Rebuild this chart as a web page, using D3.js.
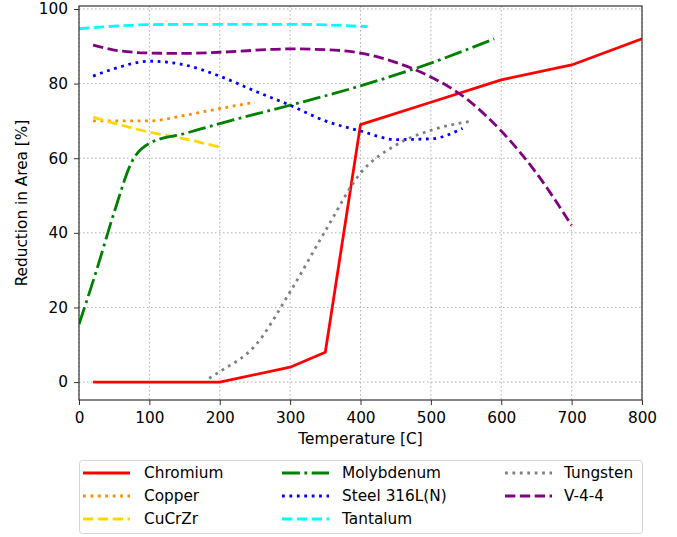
<!DOCTYPE html>
<html lang="en">
  <head>
    <meta charset="UTF-8" />
    <title>Reduction in Area</title>
    <script src="https://d3js.org/d3.v7.min.js"></script>
    <style>
      body { margin: 0; background: #fff; }
      text { font-family: "DejaVu Sans", sans-serif; fill: #000; }
    </style>
  </head>
  <body>
    <div id="chart"></div>
    <script>
      // values: [temperature C, reduction in area %]
      const chromium = [[20, 0], [200, 0], [300, 4], [350, 8], [400, 69], [500, 75], [600, 81], [700, 85], [800, 92]];
      const copper = [[20, 70], [100, 70], [150, 71.5], [200, 73.3], [250, 75]];
      const cucrzr = [[20, 71], [100, 67], [150, 65.2], [200, 63]];
      const molybdenum = [[0, 15.5], [25, 30], [50, 45.5], [75, 59], [100, 64], [150, 66.6], [200, 69.3], [300, 74.2], [400, 79.4], [500, 85.5], [590, 92]];
      const steel = [[20, 82], [50, 84], [100, 86], [150, 85], [200, 82], [250, 78], [300, 74.2], [350, 70], [400, 67.3], [450, 65], [500, 65.2], [545, 68]];
      const tantalum = [[0, 94.7], [50, 95.4], [100, 95.8], [200, 95.9], [300, 95.9], [410, 95.3]];
      const tungsten = [[185, 1], [200, 2.8], [250, 9.7], [300, 24.2], [350, 40.5], [400, 56], [450, 63.5], [500, 67.5], [560, 70]];
      const v44 = [[20, 90.3], [50, 89], [100, 88.2], [150, 88.1], [200, 88.4], [300, 89.3], [350, 89.1], [400, 88.2], [450, 85.7], [500, 81.8], [550, 76], [600, 67.3], [650, 56], [700, 42]];

      const xTicks = [0, 100, 200, 300, 400, 500, 600, 700, 800];
      const yTicks = [0, 20, 40, 60, 80, 100];

      const lw = 2.8;
      const fs = "15.3px";
      const dashed = [3.7 * lw, 1.6 * lw].join(",");
      const dotted = [1 * lw, 1.65 * lw].join(",");
      const dashdot = [6.4 * lw, 1.6 * lw, 1 * lw, 1.6 * lw].join(",");

      const series = [
        { name: "Chromium", data: chromium, color: "#ff0000", dash: null, smooth: false },
        { name: "Copper", data: copper, color: "#ff8c00", dash: dotted, smooth: true },
        { name: "CuCrZr", data: cucrzr, color: "#ffd700", dash: dashed, smooth: true },
        { name: "Molybdenum", data: molybdenum, color: "#008000", dash: dashdot, smooth: true },
        { name: "Steel 316L(N)", data: steel, color: "#0000ff", dash: dotted, smooth: true },
        { name: "Tantalum", data: tantalum, color: "#00ffff", dash: dashed, smooth: true },
        { name: "Tungsten", data: tungsten, color: "#808080", dash: dotted, smooth: true },
        { name: "V-4-4", data: v44, color: "#800080", dash: dashed, smooth: true },
      ];

      const width = 677;
      const height = 537;
      const margin = { top: 6, right: 35, bottom: 137, left: 79 };
      const plotW = width - margin.left - margin.right;
      const plotH = height - margin.top - margin.bottom;

      const svg = d3
        .select("#chart")
        .append("svg")
        .attr("width", width)
        .attr("height", height);

      const x = d3.scaleLinear().domain([0, 800]).range([0, plotW]);
      const y = d3.scaleLinear().domain([-4.8, 100.8]).range([plotH, 0]);

      const g = svg
        .append("g")
        .attr("transform", `translate(${margin.left},${margin.top})`);

      g.append("clipPath")
        .attr("id", "clip")
        .append("rect")
        .attr("width", plotW)
        .attr("height", plotH);

      // grid
      g.append("g")
        .selectAll("line")
        .data(xTicks)
        .enter()
        .append("line")
        .attr("x1", (d) => x(d))
        .attr("x2", (d) => x(d))
        .attr("y1", 0)
        .attr("y2", plotH)
        .style("stroke", "#b0b0b0")
        .style("stroke-width", 1)
        .style("stroke-dasharray", "1.5,2.5");
      g.append("g")
        .selectAll("line")
        .data(yTicks)
        .enter()
        .append("line")
        .attr("x1", 0)
        .attr("x2", plotW)
        .attr("y1", (d) => y(d))
        .attr("y2", (d) => y(d))
        .style("stroke", "#b0b0b0")
        .style("stroke-width", 1)
        .style("stroke-dasharray", "1.5,2.5");

      const line = d3
        .line()
        .x((d) => x(d[0]))
        .y((d) => y(d[1]));

      const lines = g.append("g").attr("clip-path", "url(#clip)");
      series.forEach(function (s) {
        line.curve(s.smooth ? d3.curveMonotoneX : d3.curveLinear);
        lines
          .append("path")
          .datum(s.data)
          .attr("d", line)
          .style("fill", "none")
          .style("stroke", s.color)
          .style("stroke-width", lw)
          .style("stroke-dasharray", s.dash)
          .style("stroke-linejoin", "round");
      });

      // axes
      const xAxis = g
        .append("g")
        .attr("transform", `translate(0,${plotH})`)
        .call(d3.axisBottom(x).tickValues(xTicks).tickSize(5).tickPadding(7));
      const yAxis = g
        .append("g")
        .call(d3.axisLeft(y).tickValues(yTicks).tickSize(5).tickPadding(6));
      [xAxis, yAxis].forEach(function (a) {
        a.select(".domain").remove();
        a.selectAll("line").style("stroke", "#333").style("stroke-width", 1);
        a.selectAll("text").style("font-size", fs).style("font-family", "DejaVu Sans");
      });

      g.append("rect")
        .attr("width", plotW)
        .attr("height", plotH)
        .style("fill", "none")
        .style("stroke", "#333")
        .style("stroke-width", 1.2);

      svg
        .append("text")
        .attr("x", margin.left + plotW / 2)
        .attr("y", 444)
        .attr("text-anchor", "middle")
        .style("font-size", fs)
        .text("Temperature [C]");

      svg
        .append("text")
        .attr("transform", `translate(27,${margin.top + plotH / 2}) rotate(-90)`)
        .attr("text-anchor", "middle")
        .style("font-size", fs)
        .text("Reduction in Area [%]");

      // legend, spread across the plot width below the axis
      const legend = svg.append("g");
      legend
        .append("rect")
        .attr("x", 79.5)
        .attr("y", 460.5)
        .attr("width", 563)
        .attr("height", 73)
        .attr("rx", 3)
        .style("fill", "#fff")
        .style("stroke", "#d5d5d5")
        .style("stroke-width", 1);

      const colX = [83, 282, 505];
      const textX = [144, 342, 564];
      const rowY = [473, 496, 519];
      series.forEach(function (s, i) {
        const col = Math.floor(i / 3);
        const row = i % 3;
        const lx = colX[col];
        const ly = rowY[row];
        legend
          .append("line")
          .attr("x1", lx)
          .attr("x2", lx + 47)
          .attr("y1", ly)
          .attr("y2", ly)
          .style("stroke", s.color)
          .style("stroke-width", lw)
          .style("stroke-dasharray", s.dash);
        legend
          .append("text")
          .attr("x", textX[col])
          .attr("y", ly)
          .attr("dy", "0.35em")
          .style("font-size", fs)
          .text(s.name);
      });
    </script>
  </body>
</html>
